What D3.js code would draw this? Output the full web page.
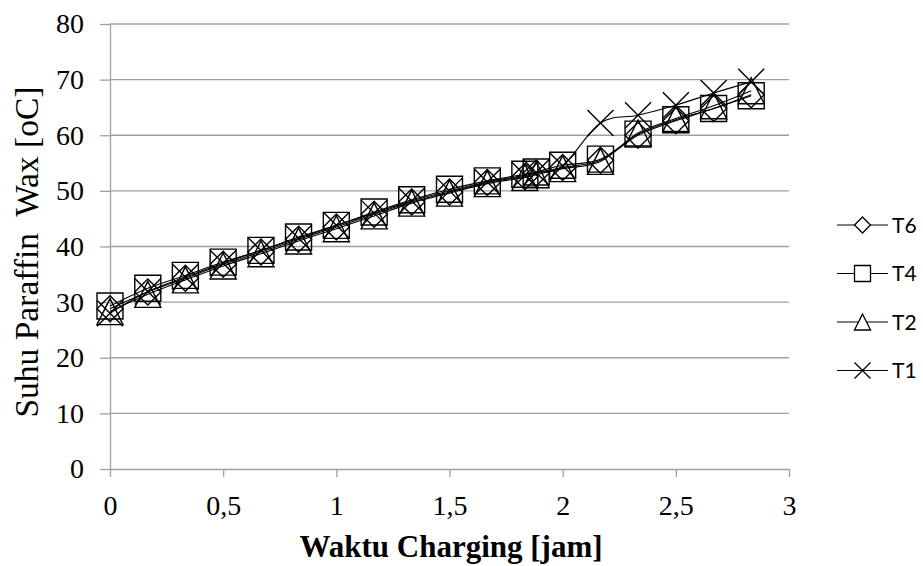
<!DOCTYPE html>
<html lang="id">
<head>
<meta charset="utf-8">
<title>Suhu Paraffin Wax</title>
<script src="https://cdnjs.cloudflare.com/ajax/libs/d3/7.8.5/d3.min.js"></script>
<style>
  body { margin: 0; background: #fff; }
  svg { display: block; }
  .grid line { stroke: #a0a0a0; stroke-width: 1.3px; }
  .axis path, .axis line { stroke: #a0a0a0; stroke-width: 1.3px; }
  .axis text { font-family: "Liberation Serif", "Times New Roman", serif; font-size: 28px; fill: #000; }
  .series path.line { fill: none; stroke: #000; stroke-width: 1.1px; }
  .marker { fill: none; stroke: #000; stroke-width: 1.4px; }
  .legend text { font-family: Lato, "Open Sans", sans-serif; font-size: 21px; fill: #000; }
</style>
</head>
<body>
<div id="chart"></div>
<script>
// waktu (jam)
var waktu = [0, 0.167, 0.333, 0.5, 0.667, 0.833, 1.0, 1.167, 1.333, 1.5, 1.667, 1.833, 1.883, 2.0, 2.167, 2.333, 2.5, 2.667, 2.833];

// suhu (oC)
var t6 = [28.8, 31.8, 34.3, 36.8, 39.0, 41.3, 43.5, 45.8, 48.0, 49.8, 51.5, 52.6, 53.2, 54.2, 55.5, 60.0, 62.6, 64.8, 67.3];
var t4 = [29.3, 32.5, 34.8, 37.2, 39.3, 41.7, 43.8, 46.2, 48.4, 50.3, 51.8, 53.0, 53.4, 54.6, 55.7, 60.2, 62.8, 64.8, 67.1];
var t2 = [28.3, 31.4, 34.0, 36.5, 38.7, 41.0, 43.2, 45.5, 47.8, 49.6, 51.3, 52.4, 52.9, 54.0, 55.3, 60.4, 63.0, 65.3, 68.0];
var t1 = [28.0, 31.9, 34.5, 37.0, 39.3, 41.5, 43.8, 46.0, 48.2, 50.0, 51.6, 52.8, 53.3, 54.5, 62.2, 63.6, 65.4, 67.6, 69.6];

var xTicks = [0, 0.5, 1, 1.5, 2, 2.5, 3];
var yTicks = [0, 10, 20, 30, 40, 50, 60, 70, 80];

var series = [
  { name: "T6", values: t6, shape: "diamond" },
  { name: "T4", values: t4, shape: "square" },
  { name: "T2", values: t2, shape: "triangle" },
  { name: "T1", values: t1, shape: "cross" }
];

var width = 923, height = 566;
var plotLeft = 110, plotRight = 789, plotTop = 24, plotBottom = 469;

var svg = d3.select("#chart").append("svg")
    .attr("width", width)
    .attr("height", height);

var x = d3.scaleLinear().domain([0, 3]).range([plotLeft, plotRight]);
var y = d3.scaleLinear().domain([0, 80]).range([plotBottom, plotTop]);

// marker path, s = half size
function markerPath(shape, s) {
  if (shape == "square") return "M" + (-s) + "," + (-s) + "H" + s + "V" + s + "H" + (-s) + "Z";
  if (shape == "diamond") return "M0," + (-s) + "L" + s + ",0L0," + s + "L" + (-s) + ",0Z";
  if (shape == "triangle") return "M0," + (-s) + "L" + s + "," + s + "L" + (-s) + "," + s + "Z";
  return "M" + (-s) + "," + (-s) + "L" + s + "," + s + "M" + s + "," + (-s) + "L" + (-s) + "," + s;
}

// gridlines
svg.append("g")
    .attr("class", "grid")
  .selectAll("line")
    .data(yTicks.slice(1))
  .enter().append("line")
    .attr("x1", plotLeft).attr("x2", plotRight)
    .attr("y1", function(d) { return y(d); })
    .attr("y2", function(d) { return y(d); });

// axes
svg.append("g")
    .attr("class", "axis")
    .attr("transform", "translate(0," + plotBottom + ")")
    .call(d3.axisBottom(x).tickValues(xTicks).tickSize(8).tickSizeOuter(0).tickPadding(18)
      .tickFormat(function(d) { return String(d).replace(".", ","); }))
    .call(function(g) { g.selectAll("text").attr("dy", "0.71em"); });

svg.append("g")
    .attr("class", "axis")
    .attr("transform", "translate(" + plotLeft + ",0)")
    .call(d3.axisLeft(y).tickValues(yTicks).tickSize(10).tickSizeOuter(0).tickPadding(16));

// lines and markers
var line = d3.line()
    .curve(d3.curveCatmullRom.alpha(0))
    .x(function(d, i) { return x(waktu[i]); })
    .y(function(d) { return y(d); });

var g = svg.selectAll(".series")
    .data(series)
  .enter().append("g")
    .attr("class", "series");

g.append("path")
    .attr("class", "line")
    .attr("d", function(d) { return line(d.values); });

g.each(function(s) {
  d3.select(this).selectAll(".marker")
      .data(s.values)
    .enter().append("path")
      .attr("class", "marker")
      .attr("transform", function(d, i) { return "translate(" + x(waktu[i]) + "," + y(d) + ")"; })
      .attr("d", markerPath(s.shape, 13));
});

// axis titles
svg.append("text")
    .attr("transform", "translate(38,252) rotate(-90)")
    .attr("text-anchor", "middle")
    .style("font-family", "'Liberation Serif', serif")
    .style("font-size", "33.5px")
    .style("white-space", "pre")
    .text("Suhu Paraffin  Wax [oC]");

svg.append("text")
    .attr("x", 451)
    .attr("y", 557)
    .attr("text-anchor", "middle")
    .style("font-family", "'Liberation Serif', serif")
    .style("font-size", "31px")
    .style("font-weight", "bold")
    .text("Waktu Charging [jam]");

// legend
var legend = svg.append("g")
    .attr("class", "legend")
  .selectAll("g")
    .data(series)
  .enter().append("g")
    .attr("transform", function(d, i) { return "translate(837," + (225 + i * 48.5) + ")"; });

legend.append("line")
    .attr("x1", 0).attr("x2", 51)
    .attr("stroke", "#000").attr("stroke-width", 1);

legend.append("path")
    .attr("transform", "translate(25.5,0)")
    .attr("d", function(d) { return markerPath(d.shape, 8); })
    .attr("fill", "#fff")
    .attr("stroke", "#000")
    .attr("stroke-width", 1.3);

legend.append("text")
    .attr("x", 55)
    .attr("dy", "0.36em")
    .text(function(d) { return d.name; });
</script>
</body>
</html>
